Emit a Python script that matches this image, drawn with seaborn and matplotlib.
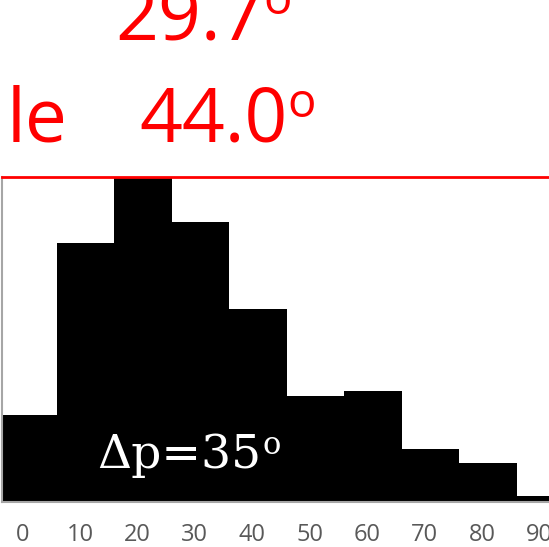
import matplotlib
matplotlib.use("Agg")
import matplotlib.pyplot as plt
import seaborn as sns
import numpy as np

# data
bin_edges = [-4, 6, 16, 26, 36, 46, 56, 66, 76, 86, 96]
bin_centers = [1, 11, 21, 31, 41, 51, 61, 71, 81, 91]
counts = [4.5, 13.45, 18.0, 14.55, 10.0, 5.5, 5.75, 2.75, 2.0, 0.3]
xtick_vals = [0, 10, 20, 30, 40, 50, 60, 70, 80, 90]
xtick_labels = ["0", "10", "20", "30", "40", "50", "60", "70", "80", "90"]
ytick_vals = [0, 2, 4, 6, 8, 10, 12, 14, 16]

sns.set_style("white")
W, H = 549, 547
fig = plt.figure(figsize=(W / 100, H / 100), dpi=100)
ax = fig.add_axes([1.5 / W, 45 / H, 1 - 1.5 / W, 325 / H])

sns.histplot(x=bin_centers, weights=counts, bins=bin_edges, color="black",
             alpha=1, edgecolor="black", linewidth=0, ax=ax)

ax.set_xlim(-3.65, 91.65)
ax.set_ylim(0, 16.88)
ax.set_xlabel("")
ax.set_ylabel("")
ax.set_xticks(xtick_vals)
ax.set_xticklabels(xtick_labels, fontfamily="Open Sans", fontsize=17, color="#595959")
ax.tick_params(axis="x", length=0, pad=15)
ax.set_yticks(ytick_vals)
ax.tick_params(axis="y", direction="out", length=3, width=1, color="#808080", labelleft=False)

for s in ["left", "bottom"]:
    ax.spines[s].set_color("#a6a6a6")
    ax.spines[s].set_linewidth(1.5)
ax.spines["right"].set_visible(False)
ax.spines["top"].set_color("red")
ax.spines["top"].set_linewidth(2)

renderer = fig.canvas.get_renderer()


def text_with_o(x_px, base_px, main, color, size, fam, osize, orise_px, gap_px):
    t = fig.text(x_px / W, 1 - base_px / H, main, color=color, fontsize=size,
                 family=fam, va="baseline", ha="left")
    bb = t.get_window_extent(renderer=renderer)
    fig.text((bb.x1 + gap_px) / W, (H - base_px + orise_px) / H, "o", color=color,
             fontsize=osize, family=fam, va="baseline", ha="left")


red_font = ["Open Sans"]
text_with_o(115, 39, "29.7", "red", 54, red_font, 34, 25, 0)
text_with_o(139, 142, "44.0", "red", 54, red_font, 34, 25, 0)
fig.text(7 / W, 1 - 142 / H, "le", color="red", fontsize=54, family=red_font,
         va="baseline", ha="left")

text_with_o(97, 468, "Δp=35", "white", 34, ["DejaVu Serif"], 22, 14, 1)

fig.savefig("out.png", dpi=100)
